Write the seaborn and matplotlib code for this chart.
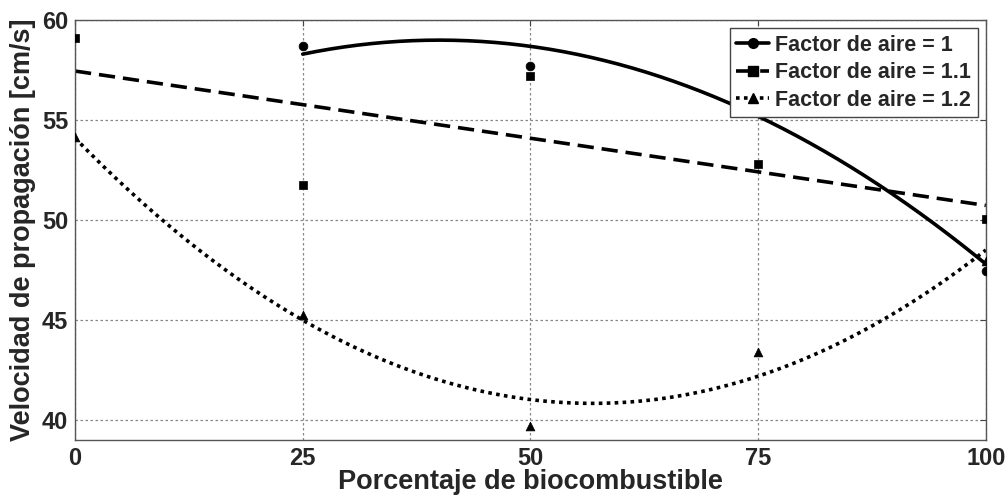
import numpy as np
import pandas as pd
import seaborn as sns
import matplotlib.pyplot as plt
from matplotlib.lines import Line2D

# measured points
x_fa1 = [25, 50, 100]
y_fa1 = [58.7, 57.7, 47.45]
x_fa11 = [0, 25, 50, 75, 100]
y_fa11 = [59.1, 51.75, 57.2, 52.8, 50.05]
x_fa12 = [0, 25, 50, 75, 100]
y_fa12 = [54.15, 45.25, 39.7, 43.4, 47.95]

# trend lines (polynomial coefficients, highest power first) and their x range
fit_fa1 = [-0.00311, 0.2488, 54.02]
fit_fa11 = [-0.0672, 57.45]
fit_fa12 = [0.00411, -0.467, 54.1]
range_fa1 = (25, 100)
range_fa11 = (0, 100)
range_fa12 = (0, 100)

labels = ["Factor de aire = 1", "Factor de aire = 1.1", "Factor de aire = 1.2"]
xticks = [0, 25, 50, 75, 100]
yticks = [40, 45, 50, 55, 60]

sns.set_style("white")
plt.rcParams['font.family'] = ['Liberation Sans', 'DejaVu Sans']
plt.rcParams['font.weight'] = 'bold'

fig = plt.figure(figsize=(10.07, 4.95), dpi=100)
ax = fig.add_axes([0.0745, 0.111, 0.9045, 0.8485])

series = [
    (x_fa1, y_fa1, fit_fa1, range_fa1, 'o', '-'),
    (x_fa11, y_fa11, fit_fa11, range_fa11, 's', (0, (4.5, 2.2))),
    (x_fa12, y_fa12, fit_fa12, range_fa12, '^', (0, (1, 1.2))),
]

handles = []
for (xs, ys, fit, rng, mk, ls), lab in zip(series, labels):
    xx = np.linspace(rng[0], rng[1], 200)
    curve = pd.DataFrame({"x": xx, "y": np.polyval(fit, xx)})
    sns.lineplot(data=curve, x="x", y="y", ax=ax, color='black', linewidth=2.6,
                 linestyle=ls, legend=False)
    pts = pd.DataFrame({"x": xs, "y": ys})
    sns.scatterplot(data=pts, x="x", y="y", ax=ax, color='black', marker=mk,
                    s=40, edgecolor='black', legend=False, zorder=5)
    handles.append(Line2D([], [], color='black', linewidth=2.6, linestyle=ls,
                          marker=mk, markersize=7))

ax.set_xlim(0, 100)
ax.set_ylim(39, 60)
ax.set_xticks(xticks)
ax.set_yticks(yticks)
ax.tick_params(direction='in', length=4, labelsize=17, top=True, right=True,
               color='#444444', pad=5)
for lbl in ax.get_xticklabels() + ax.get_yticklabels():
    lbl.set_fontweight('bold')
    lbl.set_family(['Liberation Sans Narrow', 'Liberation Sans', 'DejaVu Sans'])
ax.grid(True, linestyle=(0, (2, 2)), color='#888888', linewidth=0.9)
for sp in ax.spines.values():
    sp.set_color('#555555')
    sp.set_linewidth(1.0)

ax.set_xlabel("Porcentaje de biocombustible", fontsize=19.5, fontweight='bold', labelpad=-1)
ax.set_ylabel("Velocidad de propagación [cm/s]", fontsize=19.5, fontweight='bold', labelpad=4)

leg = ax.legend(handles, labels, loc='upper right', prop={'weight': 'bold', 'size': 15.5},
                handlelength=1.5, handletextpad=0.3, labelspacing=0.3,
                borderpad=0.3, borderaxespad=0.3, fancybox=False, framealpha=1,
                edgecolor='#444444', bbox_to_anchor=(0.998, 0.996))
leg.get_frame().set_linewidth(1.0)

fig.savefig("out.png", dpi=100)
